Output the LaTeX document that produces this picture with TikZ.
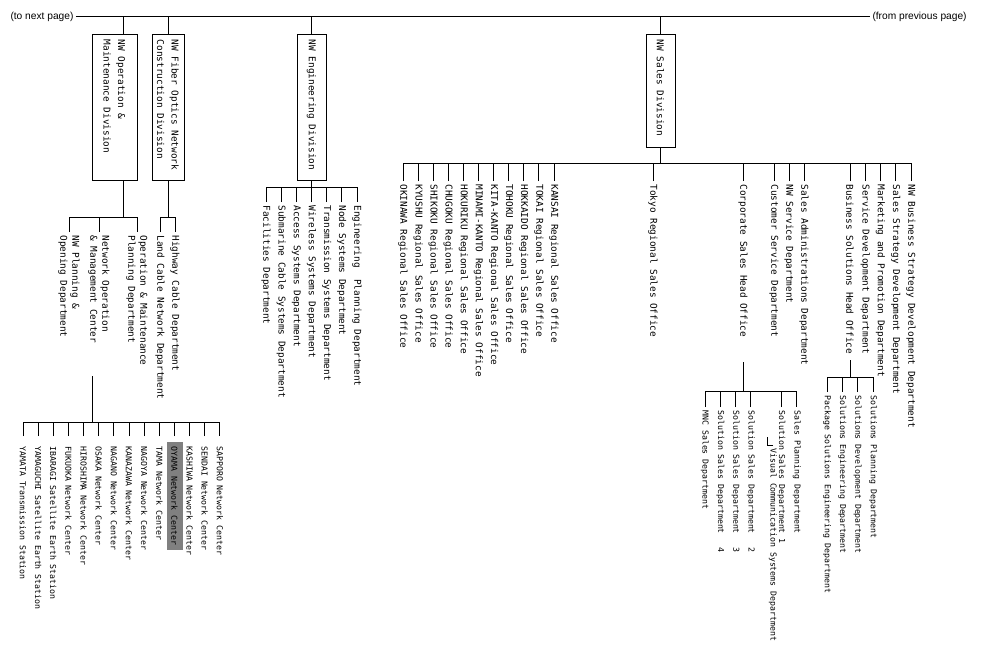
\documentclass[tikz,border=0pt]{standalone}
\usepackage{fontspec}
\newfontfamily\mymono{DejaVu Sans Mono}
\newfontfamily\mylab{Liberation Sans}
\newcommand\myup{\mymono\fontsize{9.4}{12}\selectfont}
\newcommand\mylow{\mymono\fontsize{8.2}{10}\selectfont}
\newcommand\mydivf{\mymono\fontsize{9.4}{14.5}\selectfont}
\newcommand\myln[2]{\makebox[#1][l]{#2}}
\begin{document}
\begin{tikzpicture}[x=1pt,y=-1pt, line width=1pt,
  dept/.style={rotate=-90, anchor=west, inner xsep=3pt, inner ysep=1pt, align=left, font=\myup},
  sdept/.style={rotate=-90, anchor=west, inner xsep=3pt, inner ysep=1pt, align=left, font=\mylow},
  ctr/.style={rotate=-90, anchor=west, inner xsep=5pt, inner ysep=2pt, minimum height=16pt, font=\mylow},
  hl/.style={fill=gray},
  div/.style={draw, rotate=-90, align=left, font=\mydivf, inner xsep=5pt, inner ysep=2pt},
  lab/.style={font=\mylab\fontsize{10.2}{12}\selectfont, inner sep=2pt},
]
\useasboundingbox (0,0) rectangle (981,658);

% top line
\node[lab, anchor=west] (tonext) at (8,17) {(to next page)};
\node[lab, anchor=west] (fromprev) at (870,17) {(from previous page)};
\draw (tonext.east) -- (fromprev.west);
\coordinate (t1) at (123,17);

% divisions
\node[div, minimum width=145pt, minimum height=45pt] (d1) at (114.5,107.5) {\myln{135pt}{NW Operation \&}\\\myln{135pt}{Maintenance Division}};
\node[div, minimum width=145pt, minimum height=32pt] (d2) at (168,107.5) {\myln{135pt}{NW Fiber Optics Network}\\\myln{135pt}{Construction Division}};
\node[div, minimum width=145pt, minimum height=29pt] (d3) at (311.5,107.5) {\myln{135pt}{NW Engineering Division}};
\node[div, minimum width=112pt, minimum height=29pt] (d4) at (660.5,91) {\myln{102pt}{NW Sales Division}};

\draw (t1) -- (t1 |- d1.west);
\draw (d2.west) -- (d2.west |- tonext.east);
\draw (d3.west) -- (d3.west |- tonext.east);
\draw (d4.west) -- (d4.west |- tonext.east);

% ---- Operation & Maintenance
\coordinate (b1) at (123,217);
\node[dept] (c11) at (69,232) {NW Planning \&\\Opening Department};
\node[dept] (c12) at (99,232) {Network Operation\\\& Management Center};
\node[dept] (c13) at (137,232) {Operation \& Maintenance\\Planning Department};
\draw (t1 |- d1.east) -- (b1);
\draw (c11.west) |- (c13.west |- b1) -- (c13.west);
\draw (c12.west) -- (c12.west |- b1);

% network centers
\coordinate (nst) at (92,376);
\coordinate (b7) at (92,422);
\node[ctr] (n14) at (23,441) {YAMATA Transmission Station};
\node[ctr] (n13) at (38.15,441) {YAMAGUCHI Satellite Earth Station};
\node[ctr] (n12) at (53.3,441) {IBARAGI Satellite Earth Station};
\node[ctr] (n11) at (68.45,441) {FUKUOKA Network Center};
\node[ctr] (n10) at (83.6,441) {HIROSHIMA Network Center};
\node[ctr] (n09) at (98.75,441) {OSAKA Network Center};
\node[ctr] (n08) at (113.9,441) {NAGANO Network Center};
\node[ctr] (n07) at (129.05,441) {KANAZAWA Network Center};
\node[ctr] (n06) at (144.2,441) {NAGOYA Network Center};
\node[ctr] (n05) at (159.35,441) {TAMA Network Center};
\node[ctr, hl] (n04) at (174.5,441) {OYAMA Network Center};
\node[ctr] (n03) at (189.65,441) {KASHIWA Network Center};
\node[ctr] (n02) at (204.8,441) {SENDAI Network Center};
\node[ctr] (n01) at (219.95,441) {SAPPORO Network Center};
\draw (nst) -- (b7);
\draw[shorten <=5pt] (n14.west) |- (n01.west |- b7);
\draw[shorten >=5pt] (n01.west |- b7) -- (n01.west);
\foreach \n in {n13,n12,n11,n10,n09,n08,n07,n06,n05,n04,n03,n02}
  \draw[shorten <=5pt] (\n.west) -- (\n.west |- b7);

% ---- Fiber optics
\coordinate (b2) at (168,217);
\node[dept] (c21) at (175,232) {Highway Cable Department};
\node[dept] (c22) at (160,232) {Land Cable Network Department};
\draw (d2.east) -- (b2);
\draw (c22.west) |- (c21.west |- b2) -- (c21.west);

% ---- Engineering
\coordinate (b3) at (311.5,187);
\node[dept] (e1) at (357,202) {Engineering\ \ Planning Department};
\node[dept] (e2) at (341.8,202) {Node Systems Department};
\node[dept] (e3) at (326.7,202) {Transmission Systems Department};
\node[dept] (e4) at (311.5,202) {Wireless Systems Department};
\node[dept] (e5) at (296.3,202) {Access Systems Department};
\node[dept] (e6) at (281.2,202) {Submarine Cable Systems Department};
\node[dept] (e7) at (266,202) {Facilities Department};
\draw (d3.east) -- (b3);
\draw (e7.west) |- (e1.west |- b3) -- (e1.west);
\foreach \n in {e2,e3,e4,e5,e6}
  \draw (\n.west) -- (\n.west |- b3);

% ---- Sales
\coordinate (b4) at (660.5,163);
\node[dept] (r01) at (554,181) {KANSAI Regional Sales Office};
\node[dept] (r02) at (538.9,181) {TOKAI Regional Sales Office};
\node[dept] (r03) at (523.8,181) {HOKKAIDO Regional Sales Office};
\node[dept] (r04) at (508.7,181) {TOHOKU Regional Sales Office};
\node[dept] (r05) at (493.6,181) {KITA-KANTO Regional Sales Office};
\node[dept] (r06) at (478.5,181) {MINAMI-KANTO Regional Sales Office};
\node[dept] (r07) at (463.4,181) {HOKURIKU Regional Sales Office};
\node[dept] (r08) at (448.3,181) {CHUGOKU Regional Sales Office};
\node[dept] (r09) at (433.2,181) {SHIKOKU Regional Sales Office};
\node[dept] (r10) at (418.1,181) {KYUSHU Regional Sales Office};
\node[dept] (r11) at (403,181) {OKINAWA Regional Sales Office};
\node[dept] (tokyo) at (653,181) {Tokyo Regional Sales Office};
\node[dept] (corp) at (743,181) {Corporate Sales Head Office};
\node[dept] (cust) at (774,181) {Customer Service Department};
\node[dept] (nwsv) at (789,181) {NW Service Department};
\node[dept] (sadm) at (804,181) {Sales Administrations Department};
\node[dept] (bsho) at (850,181) {Business Solutions Head Office};
\node[dept] (sdev) at (865.3,181) {Service Development Department};
\node[dept] (mkt) at (880.5,181) {Marketing and Promotion Department};
\node[dept] (sstr) at (895.8,181) {Sales Strategy Development Department};
\node[dept] (nwbs) at (911,181) {NW Business Strategy Development Department};
\draw (d4.east) -- (b4);
\draw (r11.west) |- (nwbs.west |- b4) -- (nwbs.west);
\foreach \n in {r01,r02,r03,r04,r05,r06,r07,r08,r09,r10,tokyo,corp,cust,nwsv,sadm,bsho,sdev,mkt,sstr}
  \draw (\n.west) -- (\n.west |- b4);

% corporate sales children
\coordinate (cst) at (743,362);
\coordinate (b5) at (743,391);
\node[sdept] (p1) at (796.8,407) {Sales Planning Department};
\node[sdept] (p2) at (781.5,407) {Solution Sales Department 1};
\node[sdept] (p3) at (750.9,407) {Solution Sales Department\hspace{14pt}2};
\node[sdept] (p4) at (735.6,407) {Solution Sales Department\hspace{14pt}3};
\node[sdept] (p5) at (720.3,407) {Solution Sales Department\hspace{14pt}4};
\node[sdept] (p6) at (705,407) {MNC Sales Department};
\draw (cst) -- (b5);
\draw (p6.west) |- (p1.west |- b5) -- (p1.west);
\foreach \n in {p2,p3,p4,p5}
  \draw (\n.west) -- (\n.west |- b5);
\node[sdept] (vc) at (773,445) {Visual Communication Systems Department};
\coordinate (vcl) at (767,437);
\draw (vc.west) -| (vcl);

% business solutions children
\coordinate (bst) at (850,360);
\coordinate (b6) at (850,377);
\node[sdept] (q1) at (873,392) {Solutions Planning Department};
\node[sdept] (q2) at (857.7,392) {Solutions Development Department};
\node[sdept] (q3) at (842.3,392) {Solutions Engineering Department};
\node[sdept] (q4) at (827,392) {Package Solutions Engineering Department};
\draw (bst) -- (b6);
\draw (q4.west) |- (q1.west |- b6) -- (q1.west);
\foreach \n in {q2,q3}
  \draw (\n.west) -- (\n.west |- b6);
\end{tikzpicture}
\end{document}
